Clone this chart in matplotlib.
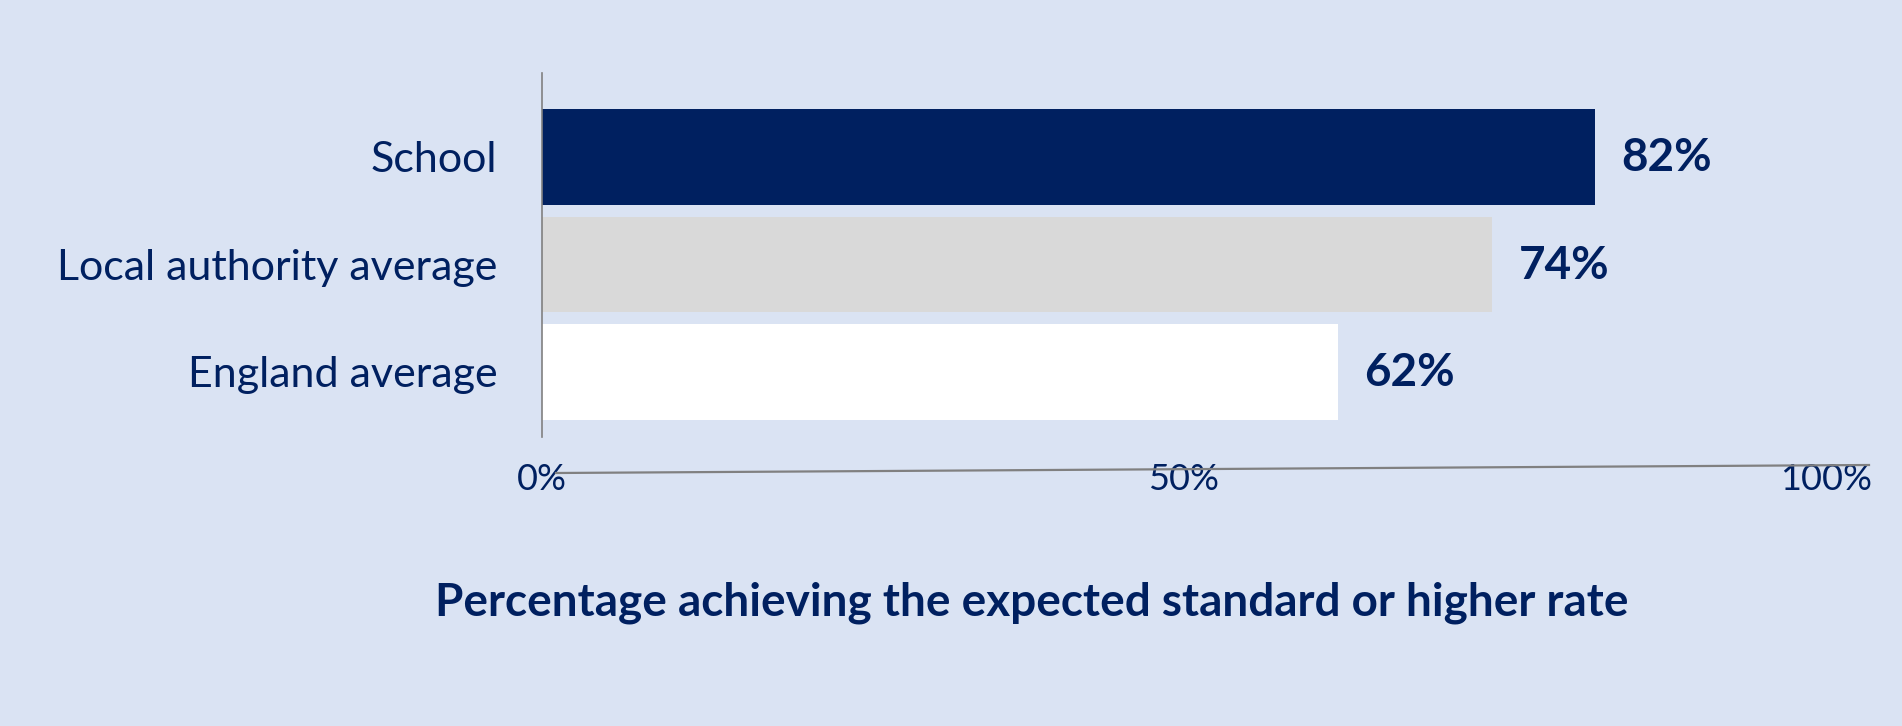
import matplotlib
matplotlib.use("Agg")
import matplotlib.pyplot as plt
from matplotlib.lines import Line2D

categories = ["School", "Local authority average", "England average"]
values = [82, 74, 62]
bar_colors = ["#002060", "#D9D9D9", "#FFFFFF"]
xticks = [0, 50, 100]
xtick_labels = ["0%", "50%", "100%"]
xlabel = "Percentage achieving the expected standard or higher rate"

BG = "#DAE3F3"
NAVY = "#002060"
GREY = "#808080"
FONT = "Lato"

W, H = 1902, 726
fig = plt.figure(figsize=(W / 100, H / 100), dpi=100)
fig.patch.set_facecolor(BG)

# axes box in pixels: left 542, right 1826, top 73, bottom 437
ax = fig.add_axes([542 / W, (H - 437) / H, (1826 - 542) / W, (437 - 73) / H])
ax.set_facecolor(BG)

ypos = list(range(len(categories)))[::-1]  # School on top
ax.barh(ypos, values, height=0.89, color=bar_colors, edgecolor="none", zorder=2)
ax.set_xlim(0, 100)
ax.set_ylim(-0.605, 2.781)

ax.set_yticks(ypos)
ax.set_yticklabels(categories, fontfamily=FONT, fontsize=31, color=NAVY)
ax.tick_params(axis="y", length=0, pad=32)

ax.set_xticks(xticks)
ax.set_xticklabels(xtick_labels, fontfamily=FONT, fontsize=26, color=NAVY)
ax.tick_params(axis="x", length=0, pad=19)

for s in ["top", "right", "bottom"]:
    ax.spines[s].set_visible(False)
ax.spines["left"].set_color(GREY)
ax.spines["left"].set_linewidth(1.2)

for y, v in zip(ypos, values):
    ax.annotate(f"{v}%", xy=(v, y), xytext=(19, -1), textcoords="offset points",
                va="center", ha="left", fontfamily=FONT, fontweight="bold",
                fontsize=33, color=NAVY)

# slightly tilted horizontal axis line as in the original
fig.add_artist(Line2D([556 / W, 1869 / W], [(H - 473) / H, (H - 465) / H],
                      color=GREY, linewidth=1.6, transform=fig.transFigure))

fig.text(1032 / W, (H - 603) / H, xlabel, ha="center", va="center",
         fontfamily=FONT, fontweight="bold", fontsize=33, color=NAVY)

fig.savefig("out.png", dpi=100, facecolor=BG)
